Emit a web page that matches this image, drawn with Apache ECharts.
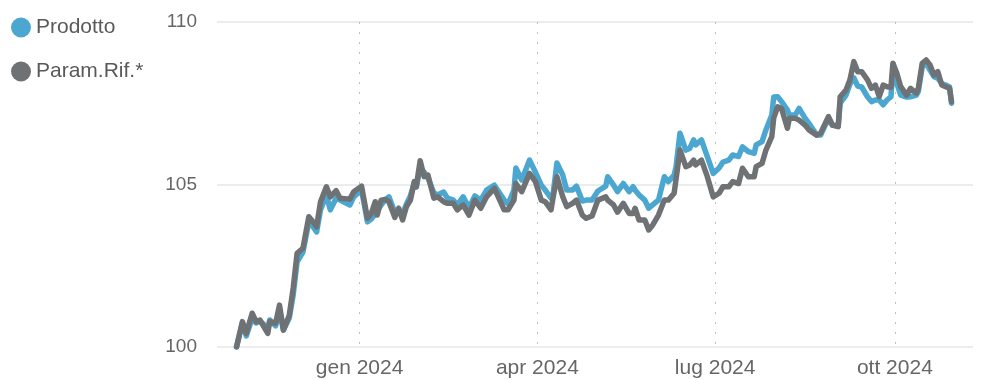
<!DOCTYPE html>
<html>
<head>
<meta charset="utf-8">
<script src="https://cdn.jsdelivr.net/npm/echarts@6/dist/echarts.min.js"></script>
<style>
  html, body { margin: 0; padding: 0; background: #fff; }
  #chart { width: 984px; height: 380px; }
</style>
</head>
<body>
<div id="chart"></div>
<script>
const dates = [
  '2023-10-30','2023-11-02','2023-11-04','2023-11-07','2023-11-09','2023-11-11','2023-11-15','2023-11-16','2023-11-19','2023-11-21',
  '2023-11-23','2023-11-26','2023-11-28','2023-11-30','2023-12-03','2023-12-06','2023-12-08','2023-12-10','2023-12-12','2023-12-15',
  '2023-12-17','2023-12-20','2023-12-22','2023-12-27','2023-12-29','2024-01-02','2024-01-05','2024-01-07','2024-01-09','2024-01-10',
  '2024-01-12','2024-01-14','2024-01-16','2024-01-19','2024-01-21','2024-01-23','2024-01-25','2024-01-27','2024-01-29','2024-01-30',
  '2024-02-01','2024-02-03','2024-02-05','2024-02-08','2024-02-10','2024-02-13','2024-02-15','2024-02-18','2024-02-20','2024-02-23',
  '2024-02-26','2024-02-29','2024-03-03','2024-03-06','2024-03-10','2024-03-15','2024-03-17','2024-03-20','2024-03-21','2024-03-24',
  '2024-03-28','2024-03-31','2024-04-03','2024-04-05','2024-04-08','2024-04-09','2024-04-11','2024-04-14','2024-04-16','2024-04-19',
  '2024-04-21','2024-04-24','2024-04-26','2024-04-29','2024-05-02','2024-05-03','2024-05-06','2024-05-07','2024-05-10','2024-05-12',
  '2024-05-15','2024-05-18','2024-05-20','2024-05-21','2024-05-23','2024-05-26','2024-05-28','2024-05-30','2024-06-02','2024-06-05',
  '2024-06-07','2024-06-10','2024-06-11','2024-06-13','2024-06-16','2024-06-18','2024-06-20','2024-06-21','2024-06-24','2024-06-27',
  '2024-06-30','2024-07-03','2024-07-05','2024-07-08','2024-07-10','2024-07-13','2024-07-15','2024-07-18','2024-07-21','2024-07-22',
  '2024-07-25','2024-07-27','2024-07-30','2024-07-31','2024-08-02','2024-08-04','2024-08-07','2024-08-08','2024-08-11','2024-08-13',
  '2024-08-16','2024-08-18','2024-08-22','2024-08-24','2024-08-28','2024-08-30','2024-09-02','2024-09-03','2024-09-06','2024-09-08',
  '2024-09-10','2024-09-12','2024-09-14','2024-09-17','2024-09-19','2024-09-21','2024-09-23','2024-09-25','2024-09-27','2024-09-29',
  '2024-09-30','2024-10-02','2024-10-04','2024-10-07','2024-10-09','2024-10-12','2024-10-13','2024-10-15','2024-10-17','2024-10-19',
  '2024-10-21','2024-10-23','2024-10-25','2024-10-27','2024-10-29','2024-10-30'
];

const prodotto = [
  100.00,100.74,100.34,100.89,100.74,100.80,100.58,100.83,100.65,101.11,
  100.52,100.89,101.60,102.62,102.92,103.85,103.72,103.54,104.22,104.68,
  104.22,104.58,104.52,104.37,104.62,104.83,103.85,103.94,104.09,104.03,
  104.37,104.52,104.62,104.15,104.15,104.09,104.40,104.65,105.05,104.92,
  105.51,105.38,105.20,104.74,104.68,104.77,104.58,104.52,104.37,104.62,
  104.28,104.65,104.52,104.83,104.98,104.52,104.40,104.83,105.51,105.14,
  105.75,105.38,104.98,104.83,104.58,104.68,105.66,105.29,104.83,104.83,
  104.95,104.49,104.52,104.52,104.80,104.83,104.95,105.24,104.98,104.78,
  105.03,104.78,104.93,104.83,104.68,104.52,104.27,104.37,104.52,105.24,
  105.09,105.29,105.55,106.58,106.06,106.11,106.37,106.22,106.37,105.86,
  105.34,105.51,105.69,105.75,105.91,105.86,106.16,106.01,105.96,106.22,
  106.32,106.68,107.14,107.69,107.70,107.55,107.29,107.14,107.14,107.34,
  107.04,106.88,106.52,106.52,107.04,106.83,106.80,107.50,107.75,108.09,
  108.28,108.03,108.00,107.70,107.55,107.60,107.60,107.45,107.60,107.70,
  108.52,108.11,107.75,107.69,107.70,107.75,107.86,108.62,108.74,108.52,
  108.32,108.27,108.11,108.06,108.00,107.50
];

const paramRif = [
  100.00,100.78,100.42,101.04,100.78,100.83,100.42,100.78,100.73,101.29,
  100.52,100.98,101.81,102.88,103.04,104.01,103.86,103.70,104.47,104.93,
  104.62,104.81,104.58,104.55,104.78,104.95,103.96,104.11,104.47,104.06,
  104.52,104.54,104.47,103.99,104.27,103.91,104.32,104.52,105.09,104.93,
  105.73,105.24,105.29,104.58,104.62,104.47,104.42,104.42,104.22,104.37,
  104.06,104.52,104.27,104.62,104.88,104.22,104.22,104.52,105.03,104.78,
  105.34,105.09,104.52,104.47,104.22,104.58,105.24,104.62,104.32,104.42,
  104.52,104.06,103.96,104.03,104.52,104.52,104.62,104.52,104.37,104.15,
  104.42,104.11,104.11,104.27,103.91,103.91,103.60,103.75,104.06,104.52,
  104.52,104.73,104.73,106.06,105.55,105.60,105.75,105.60,105.75,105.24,
  104.62,104.73,104.93,104.93,105.09,105.03,105.50,105.24,105.24,105.55,
  105.65,106.06,106.47,107.05,107.39,107.34,106.73,107.04,107.04,106.98,
  106.83,106.68,106.52,106.58,107.09,106.83,106.78,107.70,107.91,108.22,
  108.78,108.47,108.47,108.22,107.96,108.06,107.70,108.06,108.01,107.99,
  108.73,108.42,108.01,107.75,107.96,107.81,107.96,108.73,108.83,108.68,
  108.37,108.47,108.06,108.01,107.96,107.55
];

const quarterTicks = ['2024-01-01', '2024-04-01', '2024-07-01', '2024-10-01'];
const monthsIt = ['gen','feb','mar','apr','mag','giu','lug','ago','set','ott','nov','dic'];

const toTime = d => +new Date(d + 'T00:00:00');
const tickTimes = quarterTicks.map(toTime);

const chart = echarts.init(document.getElementById('chart'));
chart.setOption({
  animation: false,
  textStyle: { fontFamily: 'Liberation Sans, Arial, sans-serif' },
  legend: {
    orient: 'vertical', left: 6, top: 12,
    icon: 'circle', itemWidth: 20, itemHeight: 20, itemGap: 23,
    textStyle: { fontSize: 21, color: '#595959' },
    data: ['Prodotto', 'Param.Rif.*']
  },
  grid: { left: 217, right: 11, top: 22, bottom: 33 },
  xAxis: {
    type: 'value',
    min: toTime('2023-10-20'),
    max: toTime('2024-11-10'),
    axisLine: { show: false },
    axisTick: { show: false, customValues: tickTimes },
    axisLabel: {
      customValues: tickTimes,
      fontSize: 21, color: '#666', margin: 11,
      formatter: v => { const d = new Date(v); return monthsIt[d.getMonth()] + ' ' + d.getFullYear(); }
    },
    splitLine: { show: true, lineStyle: { color: '#bdbdbd', width: 1, type: [2, 8] } }
  },
  yAxis: {
    type: 'value', min: 100, max: 110, interval: 5,
    axisLine: { show: false }, axisTick: { show: false },
    axisLabel: { fontSize: 19, color: '#666', margin: 20 },
    splitLine: { lineStyle: { color: '#ececec', width: 2 } }
  },
  series: [
    {
      name: 'Prodotto', type: 'line', showSymbol: false,
      data: dates.map((d, i) => [toTime(d), prodotto[i]]),
      itemStyle: { color: '#4ba7d0' },
      lineStyle: { color: '#4ba7d0', width: 5.5, join: 'round', cap: 'round' }
    },
    {
      name: 'Param.Rif.*', type: 'line', showSymbol: false,
      data: dates.map((d, i) => [toTime(d), paramRif[i]]),
      itemStyle: { color: '#6f7275' },
      lineStyle: { color: '#6f7275', width: 5.5, join: 'round', cap: 'round' }
    }
  ]
});
</script>
</body>
</html>
